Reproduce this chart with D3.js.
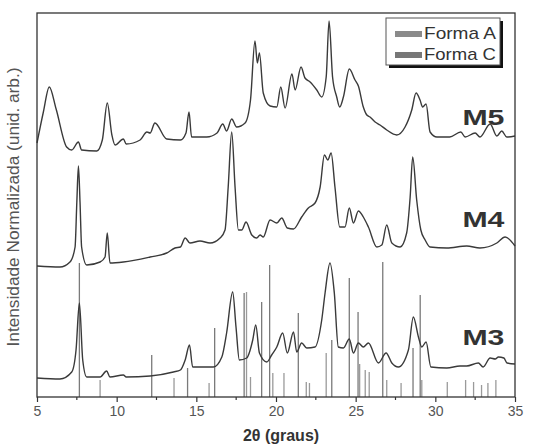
<!DOCTYPE html>
<html>
<head>
<meta charset="utf-8">
<script src="https://cdn.jsdelivr.net/npm/d3@7"></script>
<style>
  body { margin: 0; background: #fff; }
  text { font-family: "Liberation Sans", Arial, sans-serif; }
</style>
</head>
<body>
<div id="chart"></div>
<script>
// 2theta (graus) and normalized intensity
const m5X = [5.0, 5.4, 5.77, 6.2, 6.86, 7.18, 7.6, 7.8, 8.75, 9.1, 9.41, 9.7, 9.9, 10.42, 10.6, 11.47, 11.9, 12.1, 12.4, 13.14, 14.0, 14.35, 14.54, 14.7, 15.65, 16.3, 16.66, 16.9, 17.22, 17.53, 18.06, 18.4, 18.68, 18.83, 18.96, 19.2, 19.63, 20.05, 20.3, 20.57, 21.0, 21.2, 21.57, 21.82, 22.14, 22.56, 22.87, 23.15, 23.33, 23.55, 23.81, 24.0, 24.23, 24.6, 24.96, 25.17, 25.48, 25.7, 25.9, 26.22, 26.53, 26.95, 27.58, 28.1, 28.52, 28.79, 29.04, 29.2, 29.42, 29.67, 30.1, 30.9, 31.6, 31.87, 32.5, 32.8, 33.44, 33.86, 34.17, 34.48, 35.0];
const m5Y = [254, 285, 310, 288, 250, 247, 255, 247, 246, 257, 294, 262, 252, 258, 253, 257, 265, 264, 274, 258, 257, 264, 285, 260, 260, 264, 273, 266, 278, 270, 274, 297, 356, 334, 344, 304, 291, 290, 310, 289, 323, 307, 330, 319, 315, 307, 300, 320, 376, 320, 300, 290, 300, 328, 317, 311, 290, 282, 280, 275, 272, 267, 262, 270, 287, 304, 297, 290, 293, 265, 260, 260, 265, 260, 264, 260, 273, 261, 266, 260, 261];

const m4X = [5.0, 6.44, 7.07, 7.39, 7.5, 7.6, 7.7, 7.8, 8.12, 8.96, 9.27, 9.41, 9.58, 10.42, 12.1, 13.14, 13.66, 14.0, 14.3, 14.6, 15.23, 15.86, 16.49, 16.8, 17.0, 17.22, 17.43, 17.64, 17.85, 18.12, 18.48, 18.79, 19.0, 19.2, 19.63, 20.05, 20.36, 20.71, 21.1, 21.61, 22.03, 22.45, 22.77, 23.04, 23.25, 23.46, 23.7, 24.0, 24.33, 24.6, 24.86, 25.17, 25.48, 25.8, 26.33, 26.64, 26.95, 27.27, 27.79, 28.2, 28.42, 28.58, 28.83, 29.09, 29.36, 29.67, 30.72, 31.97, 32.8, 33.86, 34.38, 35.0];
const m4Y = [131, 130, 135, 150, 195, 231, 195, 150, 132, 135, 140, 164, 134, 135, 140, 144, 149, 150, 159, 154, 156, 154, 159, 167, 210, 265, 210, 167, 167, 175, 162, 159, 162, 160, 177, 174, 179, 169, 168, 180, 189, 194, 210, 242, 237, 244, 210, 170, 170, 189, 174, 186, 180, 170, 150, 152, 172, 154, 150, 164, 200, 240, 197, 167, 157, 150, 149, 151, 149, 154, 160, 151];

const m3X = [5.0, 6.44, 7.18, 7.45, 7.66, 7.87, 8.12, 8.96, 9.37, 9.58, 10.42, 10.6, 12.1, 13.56, 14.0, 14.3, 14.57, 14.77, 16.07, 16.6, 16.9, 17.28, 17.49, 17.7, 18.16, 18.54, 18.73, 18.96, 19.42, 19.73, 20.05, 20.42, 20.71, 21.1, 21.3, 21.61, 21.93, 22.45, 22.87, 23.08, 23.39, 23.66, 23.91, 24.23, 24.6, 24.86, 25.17, 25.48, 25.8, 26.43, 26.91, 27.27, 27.68, 28.31, 28.62, 28.94, 29.15, 29.42, 29.72, 30.72, 31.55, 31.97, 32.7, 33.0, 33.44, 33.76, 33.96, 34.3, 34.5, 35.0];
const m3Y = [19, 18, 25, 47, 94, 37, 20, 20, 26, 20, 22, 20, 21, 25, 27, 37, 52, 30, 30, 40, 64, 105, 70, 37, 39, 57, 72, 44, 35, 42, 50, 64, 44, 65, 45, 54, 49, 50, 77, 104, 134, 104, 50, 49, 58, 44, 54, 50, 54, 34, 44, 34, 30, 47, 80, 60, 50, 55, 30, 29, 31, 31, 34, 30, 39, 38, 40, 39, 34, 33];

// reference stick patterns
const formaAX = [8.96, 13.6, 15.8, 18.15, 18.4, 19.8, 20.5, 21.9, 22.1, 23.15, 25.25, 25.6, 25.85, 26.95, 27.85, 29.15, 30.75, 31.9, 32.4, 32.9, 33.3, 33.8];
const formaAH = [17, 19, 14, 105, 20, 24, 24, 15, 14, 44, 33, 27, 25, 17, 14, 17, 15, 17, 15, 12, 14, 17];
const formaCX = [7.66, 12.2, 14.45, 16.15, 18.0, 19.1, 19.6, 21.4, 23.5, 24.6, 25.15, 26.7, 28.6, 29.05];
const formaCH = [134, 42, 29, 69, 104, 95, 132, 84, 57, 119, 85, 135, 49, 102];

const xTicks = [5, 10, 15, 20, 25, 30, 35];
const seriesLabels = [
  { name: "M5", y: 272 },
  { name: "M4", y: 170 },
  { name: "M3", y: 52 }
];

const width = 533, height = 445;
const margin = { top: 13, right: 18, bottom: 48, left: 37 };
const w = width - margin.left - margin.right;
const h = height - margin.top - margin.bottom;

const svg = d3.select("#chart").append("svg")
  .attr("width", width)
  .attr("height", height);

const g = svg.append("g").attr("transform", `translate(${margin.left},${margin.top})`);

const x = d3.scaleLinear().domain([5, 35]).range([0, w]);
const y = d3.scaleLinear().domain([0, 384]).range([h, 0]);

// sticks
const sticks = (xs, hs, color) => {
  g.append("g").selectAll("line")
    .data(xs.map((v, i) => ({ x: v, h: hs[i] })))
    .enter().append("line")
    .attr("x1", d => x(d.x)).attr("x2", d => x(d.x))
    .attr("y1", y(0)).attr("y2", d => y(d.h))
    .attr("stroke", color)
    .attr("stroke-width", 1.3);
};
sticks(formaAX, formaAH, "#9a9a9a");
sticks(formaCX, formaCH, "#7a7a7a");

const line = d3.line()
  .x(d => x(d[0]))
  .y(d => y(d[1]))
  .curve(d3.curveMonotoneX);

[[m5X, m5Y], [m4X, m4Y], [m3X, m3Y]].forEach(([xs, ys]) => {
  g.append("path")
    .datum(xs.map((v, i) => [v, ys[i]]))
    .attr("fill", "none")
    .attr("stroke", "#3a3a3a")
    .attr("stroke-width", 1.4)
    .attr("stroke-linejoin", "round")
    .attr("d", line);
});

// frame
g.append("rect")
  .attr("width", w).attr("height", h)
  .attr("fill", "none")
  .attr("stroke", "#333")
  .attr("stroke-width", 1.3);

// x axis
const xAxis = g.append("g")
  .attr("transform", `translate(0,${h})`)
  .call(d3.axisBottom(x).tickValues(xTicks).tickSize(5).tickPadding(4))
  .call(a => a.select(".domain").remove());
xAxis.selectAll("line").attr("stroke", "#333").attr("stroke-width", 1.2);
xAxis.selectAll("text")
  .attr("fill", "#555")
  .style("font-size", "14px")
  .style("font-family", "'Liberation Sans', Arial, sans-serif");

g.append("g")
  .attr("transform", `translate(0,${h})`)
  .selectAll("line")
  .data(d3.range(7.5, 35, 5))
  .enter().append("line")
  .attr("x1", d => x(d)).attr("x2", d => x(d))
  .attr("y1", 0).attr("y2", 3)
  .attr("stroke", "#333").attr("stroke-width", 1.2);

// series labels
g.selectAll(".lbl")
  .data(seriesLabels)
  .enter().append("text")
  .attr("class", "lbl")
  .attr("x", x(31.7))
  .attr("y", d => y(d.y))
  .attr("fill", "#333")
  .style("font-size", "22px")
  .style("font-weight", "bold")
  .attr("textLength", 42)
  .attr("lengthAdjust", "spacingAndGlyphs")
  .text(d => d.name);

// axis titles
svg.append("text")
  .attr("x", 281).attr("y", 441)
  .attr("text-anchor", "middle")
  .attr("fill", "#333")
  .style("font-size", "16px")
  .style("font-weight", "bold")
  .text("2θ (graus)");

svg.append("text")
  .attr("transform", "translate(19,207) rotate(-90)")
  .attr("text-anchor", "middle")
  .attr("fill", "#555")
  .style("font-size", "16px")
  .attr("textLength", 279)
  .attr("lengthAdjust", "spacingAndGlyphs")
  .text("Intensidade Normalizada (unid. arb.)");

// legend
const leg = svg.append("g").attr("transform", "translate(386,18)");
leg.append("rect").attr("x", 3).attr("y", 3).attr("width", 114).attr("height", 47).attr("fill", "#111");
leg.append("rect").attr("width", 114).attr("height", 47).attr("fill", "#fff").attr("stroke", "#555").attr("stroke-width", 1);
const legItems = [
  { name: "Forma A", color: "#8a8a8a" },
  { name: "Forma C", color: "#777" }
];
legItems.forEach((d, i) => {
  leg.append("rect")
    .attr("x", 9).attr("y", 13 + i * 21)
    .attr("width", 27).attr("height", 6)
    .attr("fill", d.color);
  leg.append("text")
    .attr("x", 38).attr("y", 21 + i * 21)
    .attr("fill", "#333")
    .style("font-size", "17px")
    .attr("textLength", 72)
    .attr("lengthAdjust", "spacingAndGlyphs")
    .text(d.name);
});
</script>
</body>
</html>
